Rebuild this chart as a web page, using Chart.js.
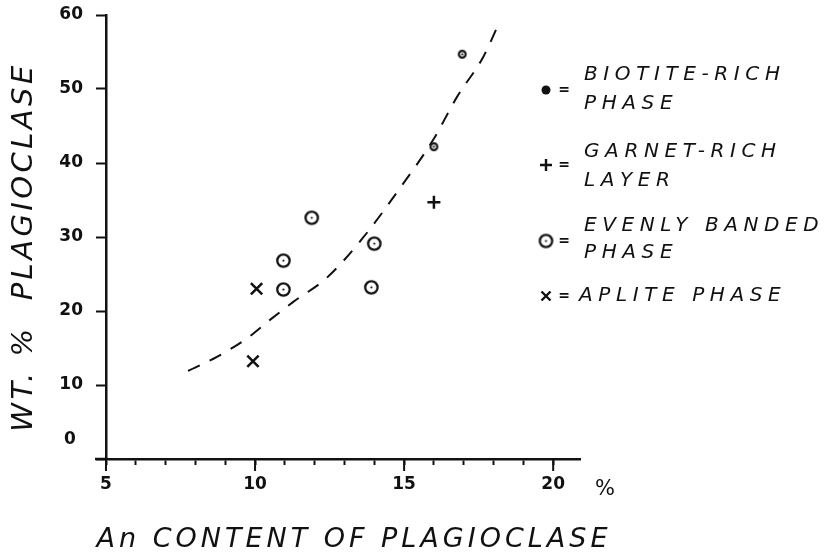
<!DOCTYPE html>
<html>
<head>
<meta charset="utf-8">
<script src="https://cdn.jsdelivr.net/npm/chart.js@4.4.0/dist/chart.umd.min.js"></script>
<style>
  body { margin: 0; background: #fff; }
  #caja { width: 832px; height: 557px; position: relative; }
</style>
</head>
<body>
<div id="caja"><canvas id="grafico"></canvas></div>
<script>
// datos (An % vs WT. % plagioclasa)
const biotitaX = [16.95, 16.0];
const biotitaY = [54.7, 42.2];

const granateX = [16.0];
const granateY = [34.7];

const bandeadoX = [11.9, 14.0, 13.9, 10.95, 10.95];
const bandeadoY = [32.6, 29.1, 23.2, 26.8, 22.9];

const aplitaX = [10.05, 9.93];
const aplitaY = [23.0, 13.2];

// curva a trazos dibujada a mano
const curvaX = [7.75, 8.72, 9.76, 10.5, 11.27, 12.41, 13.62, 14.93, 15.97, 16.77, 17.65, 18.15];
const curvaY = [11.9, 13.8, 16.4, 18.8, 21.2, 24.5, 29.9, 37.0, 43.1, 48.9, 54.3, 58.6];

const ticksX = [5, 6, 7, 8, 9, 10, 11, 12, 13, 14, 15, 16, 17, 18, 19, 20];
const etiquetasX = [5, 10, 15, 20];
const ticksY = [0, 10, 20, 30, 40, 50, 60];

const tituloX = 'An CONTENT OF PLAGIOCLASE';
const tituloY = 'WT. %  PLAGIOCLASE';
const unidadX = '%';

const leyendaSimbolos = ['punto', 'mas', 'anillo', 'equis'];
const leyendaTextos = [
  ['BIOTITE-RICH', 'PHASE'],
  ['GARNET-RICH', 'LAYER'],
  ['EVENLY BANDED', 'PHASE'],
  ['APLITE PHASE']
];

const tinta = '#111';
// ancho y corrimiento de los titulos rotulados a mano
const anchoTitulo = { x: 511, y: 366 };
const corrimientoTitulo = { x: [9, 0], y: [0, 10] };

// junta los arrays en puntos {x,y}
function puntos(xs, ys) {
  return xs.map((x, i) => ({ x: x, y: ys[i] }));
}

// circulo con punto al medio, como en el dibujo
function anillo(r, grosor) {
  const tam = Math.ceil(2 * r + grosor + 2);
  const c = document.createElement('canvas');
  c.width = tam; c.height = tam;
  const g = c.getContext('2d');
  g.fillStyle = '#fff';
  g.strokeStyle = tinta;
  g.lineWidth = grosor;
  g.beginPath(); g.arc(tam / 2, tam / 2, r, 0, Math.PI * 2); g.fill(); g.stroke();
  g.fillStyle = tinta;
  g.beginPath(); g.arc(tam / 2, tam / 2, 1.1, 0, Math.PI * 2); g.fill();
  return c;
}

const anilloGrande = anillo(6.2, 2.3);
const anilloChico = anillo(3.4, 2.1);

// los titulos estirados al ancho del original
// (ctx.font borra el letterSpacing, asi que se pone justo antes del fillText,
//  y sin el maxWidth que Chart.js le pasa, que aplastaba el texto)
const espaciado = {
  id: 'espaciado',
  afterLayout(chart) {
    Object.values(chart.scales).forEach(s => {
      if (s._conEspacio) return;
      const original = s.drawTitle.bind(s);
      s.drawTitle = function () {
        const ctx = this.ctx;
        const t = this.options.title;
        if (!t.display) return;
        ctx.save();
        ctx.letterSpacing = '0px';
        ctx.font = Chart.helpers.toFont(t.font).string;
        const natural = ctx.measureText(t.text).width;
        const extra = Math.max(0, (anchoTitulo[this.id] - natural) / (t.text.length - 1));
        const d = corrimientoTitulo[this.id] || [0, 0];
        ctx.translate(d[0] + extra / 2, d[1]);
        const fill = ctx.fillText;
        ctx.fillText = function (texto, px, py) {
          this.letterSpacing = extra.toFixed(2) + 'px';
          return fill.call(this, texto, px, py);
        };
        original();
        delete ctx.fillText;
        ctx.restore();
      };
      s._conEspacio = true;
    });
  }
};

// ticks largos, el cero suelto, el % y la leyenda
const extras = {
  id: 'extras',
  afterDraw(chart) {
    const ctx = chart.ctx;
    const x = chart.scales.x;
    const y = chart.scales.y;
    const area = chart.chartArea;
    ctx.save();
    ctx.strokeStyle = tinta;
    ctx.fillStyle = tinta;

    ctx.lineWidth = 2;
    etiquetasX.forEach(v => {
      const px = x.getPixelForValue(v);
      ctx.beginPath(); ctx.moveTo(px, area.bottom); ctx.lineTo(px, area.bottom + 12); ctx.stroke();
    });
    ctx.lineWidth = 2.5;
    ctx.beginPath(); ctx.moveTo(area.left - 11, area.bottom); ctx.lineTo(area.left, area.bottom); ctx.stroke();

    ctx.font = 'bold 17px "DejaVu Sans"';
    ctx.textAlign = 'center';
    ctx.textBaseline = 'middle';
    ctx.fillText('0', area.left - 36, y.getPixelForValue(0) - 19);

    ctx.font = '21px "DejaVu Sans"';
    ctx.fillText(unidadX, area.right + 25, area.bottom + 31);

    // leyenda
    const filasSimbolo = [90, 165, 241, 296];
    const filasTexto = [[75, 104], [152, 181], [226, 253], [296]];
    const xSimbolo = 546;
    leyendaSimbolos.forEach((s, i) => {
      const cy = filasSimbolo[i];
      ctx.lineWidth = 2.4;
      if (s === 'punto') {
        ctx.beginPath(); ctx.arc(xSimbolo, cy, 4.5, 0, Math.PI * 2); ctx.fill();
      } else if (s === 'mas') {
        ctx.beginPath();
        ctx.moveTo(xSimbolo - 6, cy); ctx.lineTo(xSimbolo + 6, cy);
        ctx.moveTo(xSimbolo, cy - 6); ctx.lineTo(xSimbolo, cy + 6);
        ctx.stroke();
      } else if (s === 'anillo') {
        ctx.drawImage(anilloGrande, xSimbolo - anilloGrande.width / 2, cy - anilloGrande.height / 2);
      } else {
        ctx.beginPath();
        ctx.moveTo(xSimbolo - 4.5, cy - 4.5); ctx.lineTo(xSimbolo + 4.5, cy + 4.5);
        ctx.moveTo(xSimbolo + 4.5, cy - 4.5); ctx.lineTo(xSimbolo - 4.5, cy + 4.5);
        ctx.stroke();
      }
      ctx.font = 'bold 14px "DejaVu Sans"';
      ctx.textAlign = 'center';
      ctx.fillText('=', xSimbolo + 18, cy);

      ctx.font = 'italic 20px "DejaVu Sans"';
      ctx.letterSpacing = '5.6px';
      ctx.textAlign = 'left';
      const xTexto = leyendaTextos[i].length === 1 ? 579 : 584;
      leyendaTextos[i].forEach((linea, j) => {
        ctx.fillText(linea, xTexto, filasTexto[i][j]);
      });
      ctx.letterSpacing = '0px';
    });
    ctx.restore();
  }
};

const config = {
  type: 'scatter',
  data: {
    datasets: [
      {
        label: 'curva',
        type: 'line',
        data: puntos(curvaX, curvaY),
        borderColor: tinta,
        borderWidth: 2,
        borderDash: [13, 11],
        pointRadius: 0,
        cubicInterpolationMode: 'monotone',
        fill: false
      },
      {
        label: 'BIOTITE-RICH PHASE',
        data: puntos(biotitaX, biotitaY),
        pointStyle: anilloChico,
        pointRadius: 4
      },
      {
        label: 'GARNET-RICH LAYER',
        data: puntos(granateX, granateY),
        pointStyle: 'cross',
        pointRadius: 6.5,
        borderColor: tinta,
        borderWidth: 2.5
      },
      {
        label: 'EVENLY BANDED PHASE',
        data: puntos(bandeadoX, bandeadoY),
        pointStyle: anilloGrande,
        pointRadius: 8
      },
      {
        label: 'APLITE PHASE',
        data: puntos(aplitaX, aplitaY),
        pointStyle: 'crossRot',
        pointRadius: 8,
        borderColor: tinta,
        borderWidth: 2.5
      }
    ]
  },
  options: {
    responsive: true,
    maintainAspectRatio: false,
    animation: false,
    events: [],
    layout: { padding: { left: 0, right: 252, top: 15, bottom: 0 } },
    plugins: {
      legend: { display: false },
      tooltip: { enabled: false }
    },
    scales: {
      x: {
        type: 'linear',
        min: 5,
        max: 20.9,
        afterBuildTicks: scale => { scale.ticks = ticksX.map(v => ({ value: v })); },
        afterFit: scale => { scale.height = 98; scale.paddingLeft = 0; scale.paddingRight = 0; },
        grid: { drawOnChartArea: false, drawTicks: true, tickLength: 6, tickWidth: 2, tickColor: tinta },
        border: { display: true, color: tinta, width: 2.5 },
        ticks: {
          color: tinta,
          padding: 9,
          maxRotation: 0,
          autoSkip: false,
          font: { family: 'DejaVu Sans', size: 17, weight: 'bold' },
          callback: v => etiquetasX.includes(v) ? String(v) : ''
        },
        title: {
          display: true,
          text: tituloX,
          color: tinta,
          font: { family: 'DejaVu Sans', size: 27, style: 'italic' },
          padding: { top: 0, bottom: 1 }
        }
      },
      y: {
        type: 'linear',
        min: 0,
        max: 60,
        afterBuildTicks: scale => { scale.ticks = ticksY.map(v => ({ value: v })); },
        afterFit: scale => { scale.width = 106; scale.paddingTop = 0; scale.paddingBottom = 0; },
        grid: { drawOnChartArea: false, drawTicks: true, tickLength: 10, tickWidth: 2, tickColor: tinta },
        border: { display: true, color: tinta, width: 2.5 },
        ticks: {
          color: tinta,
          padding: 13,
          font: { family: 'DejaVu Sans', size: 17, weight: 'bold' },
          callback: v => v === 0 ? '' : String(v)
        },
        title: {
          display: true,
          text: tituloY,
          color: tinta,
          font: { family: 'DejaVu Sans', size: 29, style: 'italic' },
          padding: { top: 5, bottom: 0 }
        }
      }
    }
  },
  plugins: [espaciado, extras]
};

new Chart(document.getElementById('grafico'), config);
</script>
</body>
</html>
